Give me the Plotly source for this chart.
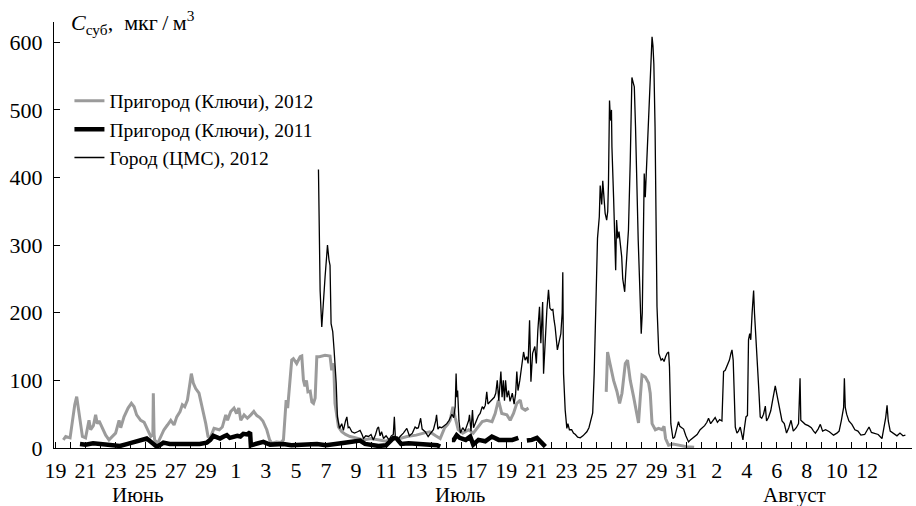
import pandas as pd
import plotly.graph_objects as go

BASE_DATE = "2012-06-19"

# --- Пригород (Ключи), 2012 : day offset from 19 June, concentration ---
sub12_day = [0.52, 0.68, 0.97, 1.12, 1.28, 1.41, 1.5, 1.63, 1.79, 2.0, 2.12, 2.23, 2.34, 2.52, 2.67, 2.78, 2.9,
             3.12, 3.34, 3.56, 3.78, 4.0, 4.23, 4.34, 4.56, 4.83, 5.05, 5.23, 5.4, 5.67, 5.9, 6.11, 6.34, 6.48,
             6.51, 6.56, 6.6, 6.8, 7.0, 7.22, 7.45, 7.67, 7.89, 8.07, 8.29, 8.44, 8.6, 8.78, 8.95, 9.04, 9.17,
             9.33, 9.55, 9.77, 10.0, 10.15, 10.3, 10.55, 10.9, 11.1, 11.33, 11.45, 11.66, 11.88, 12.05, 12.2,
             12.33, 12.55, 12.77, 13.0, 13.2, 13.4, 13.6, 13.8, 14.06, 14.25, 14.4, 14.7, 15.0, 15.17, 15.28,
             15.35, 15.45, 15.6, 15.72, 15.83, 16.05, 16.28, 16.39, 16.5, 16.6, 16.7, 16.8, 16.95, 17.06, 17.17,
             17.28, 17.39, 17.56, 17.94, 18.27, 18.38, 18.45, 18.52, 18.6, 18.83, 19.05, 19.3, 19.6, 20.0, 20.5,
             21.0, 21.5, 22.0, 22.5, 22.93, 23.4, 24.0, 24.5, 24.9, 25.3, 25.6, 25.9, 26.1, 26.26, 26.45, 26.6,
             26.8, 27.1, 27.5, 27.8, 28.15, 28.4, 28.7, 29.05, 29.26, 29.48, 29.7, 30.04, 30.26, 30.48, 30.7,
             30.93, 31.04, 31.26, 31.48, 34.0, 36.65, 36.74, 36.9, 37.14, 37.36, 37.54, 37.7, 37.92, 38.07,
             38.25, 38.47, 38.7, 38.8, 38.92, 39.03, 39.25, 39.47, 39.58, 39.7, 39.92, 40.14, 40.36, 40.5,
             40.6, 40.8, 41.1, 41.5, 42.0, 42.5]
sub12_val = [12, 17, 15, 41, 64, 76, 61, 37, 17, 15, 31, 41, 27, 33, 49, 36, 40,
             29, 19, 12, 17, 22, 41, 30, 46, 59, 66, 61, 49, 41, 38, 27, 17, 20,
             81, 20, 12, 7, 17, 27, 34, 41, 34, 46, 54, 64, 61, 71, 96, 110, 96,
             88, 81, 61, 36, 17, 15, 29, 27, 31, 49, 41, 54, 59, 51, 59,
             41, 49, 44, 49, 54, 48, 45, 40, 27, 12, 7, 9, 8, 12, 61,
             71, 59, 96, 130, 132, 125, 135, 136, 100, 91, 100, 83, 84, 68, 66,
             74, 135, 135, 137, 136, 115, 125, 120, 66, 31, 24, 20, 17, 15, 12,
             14, 12, 10, 15, 14, 17, 19, 22, 24, 18, 14, 30, 35, 41, 61, 45,
             27, 22, 27, 22, 31, 39, 41, 39, 51, 71, 51, 49, 41, 51, 66,
             71, 59, 56, 59, None, 83, 142, 125, 100, 84, 66, 81, 125, 130,
             100, 76, 46, 37, 76, 108, 105, 96, 81, 36, 27, 29, 27, 32,
             14, 4, 6, 4, 2, 1]

# --- Пригород (Ключи), 2011 ---
sub11_day = [1.63, 2.0, 2.5, 2.96, 3.5, 4.29, 4.8, 5.18, 5.6, 6.07, 6.3, 6.51, 6.74, 7.0, 7.18, 7.6, 8.07,
             8.6, 9.18, 9.6, 10.07, 10.3, 10.5, 10.7, 10.95, 11.2, 11.4, 11.6, 11.84, 12.1, 12.3, 12.5,
             12.75, 12.95, 13.0, 13.4, 13.83, 14.28, 14.7, 15.17, 15.7, 16.28, 16.8, 17.4, 18.0, 18.5,
             19.0, 19.6, 20.27, 20.6, 21.0, 21.5, 22.0, 22.3, 22.5, 22.7, 23.0, 23.5, 24.0, 24.5, 25.0,
             25.4, 25.6, 26.0, 26.38, 26.5, 26.7, 26.9, 27.3, 27.6, 27.8, 28.15, 28.6, 29.04, 29.5, 30.04,
             30.4, 30.8, 31.1, 31.37, 31.7, 32.04, 32.3, 32.6]
sub11_val = [6, 5, 7, 6, 4, 3, 6, 8, 10, 14, 10, 7, 2, 5, 8, 6, 6,
             5, 5, 6, 8, 12, 18, 16, 14, 17, 19, 15, 16, 18, 17, 21,
             20, 23, 4, 6, 9, 5, 6, 6, 4, 5, 6, 6, 4, 5,
             7, 9, 11, 6, 5, 3, 4, 12, 15, 14, 6, 7, 6, 5, 5,
             4, 2, None, 12, 12, 19, 15, 12, 17, 5, 12, 10, 17, 12, 11,
             12, 15, None, 11, 12, 15, 8, 2]

# --- Город (ЦМС), 2012 ---
city_day = [17.5, 17.58, 17.61, 17.72, 17.83, 17.94, 18.05, 18.1, 18.2, 18.27, 18.34, 18.45, 18.54, 18.68,
            18.76, 18.9, 19.05, 19.16, 19.3, 19.39, 19.48, 19.56, 19.72, 19.9, 20.1, 20.27, 20.4, 20.5,
            20.65, 20.83, 21.0, 21.15, 21.3, 21.42, 21.5, 21.6, 21.7, 21.83, 22.0, 22.2, 22.35, 22.48,
            22.55, 22.62, 22.8, 22.93, 23.15, 23.38, 23.55, 23.75, 23.93, 24.05, 24.15, 24.3, 24.4, 24.6,
            24.8, 25.0, 25.15, 25.3, 25.36, 25.45, 25.55, 25.7, 25.85, 26.04, 26.2, 26.38, 26.5, 26.6,
            26.66, 26.71, 26.76, 26.85, 26.95, 27.1, 27.25, 27.4, 27.5, 27.55, 27.65, 27.75, 27.82, 28.0,
            28.15, 28.26, 28.4, 28.5, 28.6, 28.7, 28.78, 28.9, 29.05, 29.2, 29.3, 29.4, 29.5, 29.58,
            29.64, 29.72, 29.8, 29.88, 29.95, 30.05, 30.15, 30.25, 30.4, 30.52, 30.62, 30.7, 30.78, 30.9,
            31.04, 31.15, 31.25, 31.36, 31.45, 31.55, 31.64, 31.75, 31.9, 32.0, 32.1, 32.21, 32.3, 32.42,
            32.48, 32.6, 32.7, 32.81, 32.9, 33.0, 33.1, 33.18, 33.25, 33.4, 33.5, 33.63, 33.72, 33.76,
            33.81, 33.92, 34.03, 34.1, 34.2, 34.35, 34.47, 34.6, 34.75, 34.92, 35.1, 35.25, 35.36, 35.5,
            35.59, 35.75, 35.85, 35.92, 35.98, 36.07, 36.14, 36.19, 36.25, 36.3, 36.35, 36.42, 36.5, 36.58,
            36.68, 36.75, 36.8, 36.87, 36.92, 36.96, 37.0, 37.03, 37.14, 37.22, 37.28, 37.34, 37.42, 37.5,
            37.58, 37.68, 37.75, 37.8, 37.88, 37.95, 38.02, 38.13, 38.25, 38.36, 38.45, 38.52, 38.6, 38.7,
            38.78, 38.88, 38.92, 38.98, 39.05, 39.12, 39.18, 39.25, 39.32, 39.42, 39.55, 39.65, 39.7, 39.76,
            39.82, 39.9, 39.96, 40.03, 40.15, 40.3, 40.4, 40.5, 40.6, 40.7, 40.8, 40.86, 40.95, 41.09,
            41.2, 41.3, 41.46, 41.55, 41.65, 41.8, 41.95, 42.13, 42.25, 42.4, 42.55, 42.7, 42.9, 43.05,
            43.2, 43.35, 43.46, 43.6, 43.75, 43.9, 44.05, 44.2, 44.35, 44.46, 44.57, 44.7, 44.85, 44.95,
            45.02, 45.1, 45.24, 45.35, 45.45, 45.57, 45.65, 45.75, 45.85, 45.95, 46.05, 46.12, 46.2, 46.27,
            46.36, 46.46, 46.52, 46.62, 46.72, 46.82, 46.9, 47.0, 47.12, 47.24, 47.32, 47.45, 47.6, 47.72,
            47.82, 47.9, 48.0, 48.12, 48.24, 48.35, 48.5, 48.65, 48.8, 48.95, 49.1, 49.3, 49.45, 49.55,
            49.6, 49.75, 49.9, 50.1, 50.3, 50.45, 50.57, 50.75, 50.9, 51.05, 51.25, 51.5, 51.78, 52.0,
            52.15, 52.3, 52.45, 52.5, 52.56, 52.65, 52.8, 53.0, 53.2, 53.4, 53.6, 53.85, 54.14, 54.3,
            54.5, 54.75, 55.0, 55.15, 55.25, 55.34, 55.42, 55.55, 55.75, 56.0, 56.2, 56.4, 56.56]
city_val = [412, 300, 233, 179, 222, 253, 285, 300, 278, 270, 184, 172, 145, 96,
            46, 29, 36, 26, 40, 46, 30, 31, 24, 22, 24, 26, 20, 14,
            18, 17, 20, 12, 20, 29, 31, 18, 24, 14, 18, 12, 18, 20,
            46, 14, 12, 17, 22, 29, 18, 22, 31, 29, 30, 44, 28, 24,
            17, 22, 27, 40, 49, 28, 31, 30, 33, 36, 41, 50, 45, 61,
            110, 75, 85, 40, 22, 30, 25, 35, 41, 49, 25, 56, 30, 40,
            48, 51, 61, 58, 63, 83, 65, 68, 71, 75, 81, 100, 70, 90,
            113, 75, 100, 70, 100, 75, 85, 69, 81, 65, 80, 113, 85, 100,
            125, 142, 130, 135, 125, 189, 98, 140, 150, 125, 174, 209, 155, 216,
            110, 167, 204, 234, 207, 204, 205, 189, 179, 145, 155, 169, 200, 260,
            110, 56, 29, 36, 27, 27, 22, 20, 16, 15, 18, 22, 24, 30,
            38, 52, 110, 194, 228, 310, 339, 342, 388, 370, 360, 395, 375, 347,
            337, 350, 391, 514, 490, 484, 500, 445, 371, 300, 263, 337, 310, 320,
            300, 283, 250, 243, 231, 260, 283, 322, 425, 548, 540, 534, 475, 371,
            307, 240, 209, 169, 200, 300, 406, 371, 410, 470, 543, 590, 608, 595,
            568, 475, 371, 209, 140, 130, 132, 128, 135, 140, 142, 120, 36, 14,
            16, 25, 39, 32, 30, 28, 18, 9, 12, 15, 18, 20, 27, 30,
            33, 38, 44, 36, 40, 45, 38, 42, 40, 113, 115, 123, 130, 140,
            145, 130, 31, 22, 25, 31, 20, 12, 30, 46, 48, 160, 169, 160,
            200, 233, 199, 150, 120, 80, 46, 44, 50, 62, 40, 45, 55, 70,
            82, 92, 80, 65, 56, 40, 36, 22, 30, 41, 25, 30, 36, 103,
            41, 38, 35, 33, 30, 25, 22, 28, 35, 25, 27, 24, 19, 22,
            25, 41, 60, 103, 60, 50, 40, 35, 27, 25, 19, 20, 31, 23,
            22, 20, 14, 30, 45, 63, 40, 25, 22, 18, 22, 18, 19]

# x-axis: tick labels every second day (day offsets from 19 June)
tick_day = [0, 2, 4, 6, 8, 10, 12, 14, 16, 18, 20, 22, 24, 26, 28, 30, 32, 34, 36, 38, 40, 42, 44, 46, 48, 50, 52, 54]
tick_text = ["19", "21", "23", "25", "27", "29", "1", "3", "5", "7", "9", "11", "13", "15", "17", "19",
             "21", "23", "25", "27", "29", "31", "2", "4", "6", "8", "10", "12"]
month_names = ["Июнь", "Июль", "Август"]
month_day = [5.5, 26.9, 49.2]

base = pd.Timestamp(BASE_DATE)


def to_date(days):
    return [base + pd.Timedelta(days=d) for d in days]


FONT = "Liberation Serif"

fig = go.Figure()
fig.add_trace(go.Scatter(x=to_date(sub12_day), y=sub12_val, mode="lines",
                         name="Пригород (Ключи), 2012",
                         line=dict(color="#9b9b9b", width=3), connectgaps=False))
fig.add_trace(go.Scatter(x=to_date(sub11_day), y=sub11_val, mode="lines",
                         name="Пригород (Ключи), 2011",
                         line=dict(color="#000000", width=4.5), connectgaps=False))
fig.add_trace(go.Scatter(x=to_date(city_day), y=city_val, mode="lines",
                         name="Город (ЦМС), 2012",
                         line=dict(color="#000000", width=1.3)))

all_days = list(range(0, 58))
fig.update_xaxes(
    range=[base + pd.Timedelta(days=-0.1), base + pd.Timedelta(days=57.0)],
    tickmode="array", tickvals=to_date(tick_day), ticktext=tick_text,
    ticks="inside", ticklen=6, tickcolor="#000", tickwidth=1,
    minor=dict(tickmode="array", tickvals=to_date(all_days), ticks="inside", ticklen=6,
               tickcolor="#000", tickwidth=1),
    showline=True, linecolor="#000", linewidth=1.2, showgrid=False, zeroline=False,
    tickfont=dict(family=FONT, size=22, color="#000"), ticklabelstandoff=2,
)
fig.update_yaxes(
    range=[0, 630], tickmode="array", tickvals=[0, 100, 200, 300, 400, 500, 600],
    ticks="inside", ticklen=6, tickcolor="#000", showline=True, linecolor="#000", linewidth=1.2,
    showgrid=False, zeroline=False, tickfont=dict(family=FONT, size=22, color="#000"),
    ticklabelstandoff=6,
)

for name, d in zip(month_names, month_day):
    fig.add_annotation(x=base + pd.Timedelta(days=d), xref="x", y=-0.11, yref="paper",
                       text=name, showarrow=False, xanchor="center", yanchor="middle",
                       font=dict(family=FONT, size=21, color="#000"))

fig.add_annotation(x=0.017, xref="paper", y=1.0, yref="paper", xanchor="left", yanchor="middle",
                   text="<i>C</i><sub>суб</sub>,\u00a0 мкг\u2009/\u2009м<sup>3</sup>", showarrow=False,
                   font=dict(family=FONT, size=22, color="#000"))

fig.update_layout(
    width=916, height=506,
    margin=dict(l=54, r=4, t=22, b=58),
    plot_bgcolor="white", paper_bgcolor="white",
    font=dict(family=FONT, color="#000"),
    showlegend=True,
    legend=dict(x=0.018, y=0.86, xanchor="left", yanchor="top", bgcolor="rgba(0,0,0,0)",
                font=dict(family=FONT, size=19.5, color="#000"), itemwidth=30, tracegroupgap=0),
)

fig.write_html("out.html")
